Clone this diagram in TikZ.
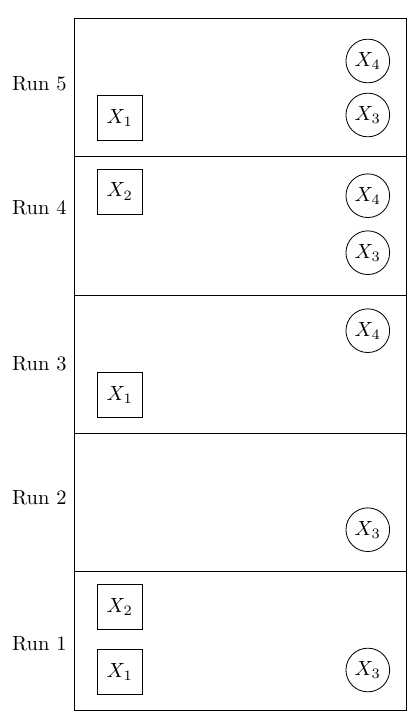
\documentclass[tikz,border=0pt]{standalone}
\begin{document}
\begin{tikzpicture}[x=0.4878pt,y=-0.4878pt,
  sq/.style={draw,rectangle,minimum size=21.95pt,inner sep=0pt},
  circ/.style={draw,circle,minimum size=21.3pt,inner sep=0pt},
  runlbl/.style={anchor=east,inner sep=0pt}]
\useasboundingbox (0,0) rectangle (410,721);
% frame and dividers
\draw (74,18.3) rectangle (406.7,710);
\foreach \yy in {156,295,433.3,571.3}{\draw (74,\yy) -- (406.7,\yy);}
% labels
\node[runlbl] (r5) at (67,84) {Run 5};
\node[runlbl] (r4) at (67,207.5) {Run 4};
\node[runlbl] (r3) at (67,364) {Run 3};
\node[runlbl] (r2) at (67,497.3) {Run 2};
\node[runlbl] (r1) at (67,644) {Run 1};
% Run 5
\node[sq] (a5x1) at (119.8,118) {$X_1$};
\node[circ] (a5x4) at (367.8,61) {$X_4$};
\node[circ] (a5x3) at (367.8,115) {$X_3$};
% Run 4
\node[sq] (a4x2) at (119.8,191.5) {$X_2$};
\node[circ] (a4x4) at (367.8,195.7) {$X_4$};
\node[circ] (a4x3) at (367.8,252.7) {$X_3$};
% Run 3
\node[sq] (a3x1) at (119.8,394.8) {$X_1$};
\node[circ] (a3x4) at (367.8,330.7) {$X_4$};
% Run 2
\node[circ] (a2x3) at (367.8,529.7) {$X_3$};
% Run 1
\node[sq] (a1x2) at (119.8,606.8) {$X_2$};
\node[sq] (a1x1) at (119.8,671.8) {$X_1$};
\node[circ] (a1x3) at (367.8,670) {$X_3$};
\end{tikzpicture}
\end{document}
